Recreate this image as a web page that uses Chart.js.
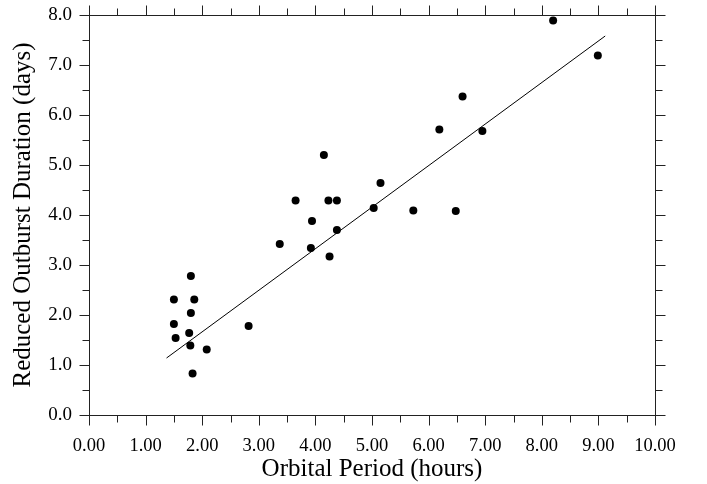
<!DOCTYPE html>
<html>
<head>
<meta charset="utf-8">
<script src="https://cdn.jsdelivr.net/npm/chart.js@4.4.1/dist/chart.umd.min.js"></script>
<style>
    html, body { margin: 0; padding: 0; background: #fff; }
    #wrap { width: 707px; height: 484px; }
</style>
</head>
<body>
<div id="wrap"><canvas id="chartCanvas" width="707" height="484"></canvas></div>
<script>
// orbital period (hours) vs reduced outburst duration (days)
const periodHours = [1.50, 1.80, 1.86, 1.80, 1.50, 1.53, 1.77, 1.79, 2.08, 1.83,
    2.82, 3.37, 3.92, 4.25, 4.15, 3.65, 4.23, 4.38, 3.94, 4.38,
    5.15, 5.03, 5.73, 6.48, 6.19, 6.95, 6.60, 8.20, 8.99];
const durationDays = [2.31, 2.78, 2.31, 2.04, 1.82, 1.54, 1.64, 1.39, 1.31, 0.83,
    1.78, 3.42, 3.34, 3.17, 5.20, 4.29, 4.29, 4.29, 3.88, 3.70,
    4.64, 4.14, 4.09, 4.08, 5.71, 5.68, 6.37, 7.89, 7.19];

// fitted line end points
const fitPeriod = [1.37, 9.12];
const fitDuration = [1.14, 7.58];

const xTickLabels = ["0.00", "1.00", "2.00", "3.00", "4.00", "5.00", "6.00", "7.00", "8.00", "9.00", "10.00"];
const yTickLabels = ["0.0", "1.0", "2.0", "3.0", "4.0", "5.0", "6.0", "7.0", "8.0"];

const FONT = "'Liberation Serif', 'Times New Roman', serif";
const AXIS_COLOR = "#222";

// frame + outward major/minor ticks on all four sides
const frameTicks = {
    id: "frameTicks",
    afterDraw(chart) {
        const ctx = chart.ctx;
        const a = chart.chartArea;
        const xs = chart.scales.x;
        const ys = chart.scales.y;
        const L = Math.round(a.left) + 0.5, R = Math.round(a.right) + 0.5;
        const T = Math.round(a.top) + 0.5, B = Math.round(a.bottom) + 0.5;
        ctx.save();
        ctx.strokeStyle = AXIS_COLOR;
        ctx.lineWidth = 1;
        ctx.strokeRect(L, T, R - L, B - T);
        ctx.beginPath();
        for (let v = xs.min; v <= xs.max + 1e-9; v += 0.5) {
            const len = Number.isInteger(v) ? 10 : 7;
            const px = Math.round(xs.getPixelForValue(v)) + 0.5;
            ctx.moveTo(px, B); ctx.lineTo(px, B + len);
            ctx.moveTo(px, T); ctx.lineTo(px, T - len);
        }
        for (let v = ys.min; v <= ys.max + 1e-9; v += 0.5) {
            const len = Number.isInteger(v) ? 10 : 7;
            const py = Math.round(ys.getPixelForValue(v)) + 0.5;
            ctx.moveTo(L, py); ctx.lineTo(L - len, py);
            ctx.moveTo(R, py); ctx.lineTo(R + len, py);
        }
        ctx.stroke();
        ctx.restore();
    }
};

const points = periodHours.map((p, i) => ({ x: p, y: durationDays[i] }));
const fitLine = fitPeriod.map((p, i) => ({ x: p, y: fitDuration[i] }));

const ctx = document.getElementById("chartCanvas").getContext("2d");
const chart = new Chart(ctx, {
    type: "scatter",
    data: {
        datasets: [{
            label: "data",
            data: points,
            backgroundColor: "#000",
            borderColor: "#000",
            pointRadius: 4,
            pointBorderWidth: 0
        }, {
            label: "fit",
            type: "line",
            data: fitLine,
            borderColor: "#000",
            borderWidth: 1,
            pointRadius: 0,
            fill: false,
            tension: 0
        }]
    },
    options: {
        responsive: false,
        animation: false,
        devicePixelRatio: 1,
        layout: { padding: { top: 15, right: 52, left: 0, bottom: 0 } },
        plugins: {
            legend: { display: false },
            tooltip: { enabled: false }
        },
        scales: {
            x: {
                type: "linear",
                min: 0,
                max: 10,
                grid: { display: false, drawTicks: false },
                border: { display: false },
                ticks: {
                    stepSize: 1,
                    autoSkip: false,
                    maxRotation: 0,
                    padding: 20,
                    color: "#000",
                    font: { family: FONT, size: 18.5 },
                    callback: (v, i) => xTickLabels[i]
                },
                title: {
                    display: true,
                    text: "Orbital Period (hours)",
                    color: "#000",
                    font: { family: FONT, size: 25 },
                    padding: { top: 5, bottom: 0 }
                },
                afterFit: s => {
                    s.height = 484 - 415;
                    s.paddingLeft = 0;
                    s.paddingRight = 0;
                }
            },
            y: {
                type: "linear",
                min: 0,
                max: 8,
                grid: { display: false, drawTicks: false },
                border: { display: false },
                ticks: {
                    stepSize: 1,
                    autoSkip: false,
                    padding: 17,
                    color: "#000",
                    font: { family: FONT, size: 19 },
                    callback: (v, i) => yTickLabels[i]
                },
                title: {
                    display: true,
                    text: "Reduced Outburst Duration (days)",
                    color: "#000",
                    font: { family: FONT, size: 25 },
                    padding: { top: 8, bottom: 0 }
                },
                afterFit: s => {
                    s.width = 89;
                    s.paddingTop = 0;
                    s.paddingBottom = 0;
                }
            }
        }
    },
    plugins: [frameTicks]
});
</script>
</body>
</html>
